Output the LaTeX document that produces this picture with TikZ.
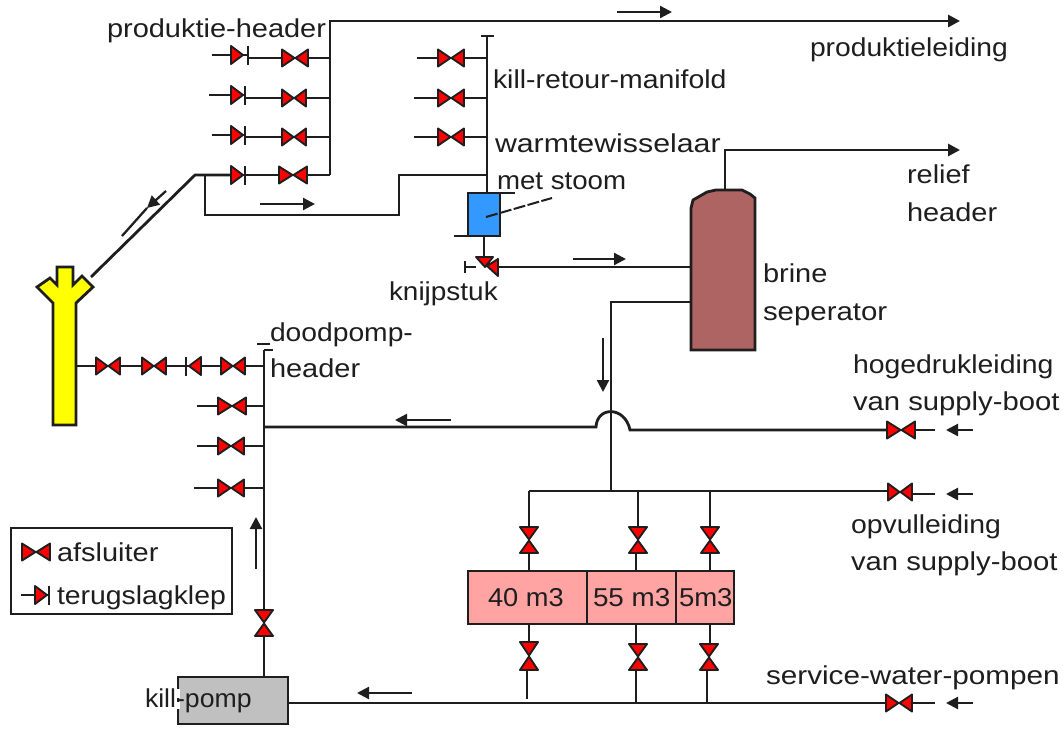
\documentclass[tikz,border=0pt]{standalone}
\usepackage{fontspec}
\setmainfont[FakeStretch=1.12]{Liberation Sans}
\usetikzlibrary{arrows.meta}
\definecolor{ink}{HTML}{1E1E1E}
\definecolor{vred}{HTML}{FF0000}
\definecolor{hxblue}{HTML}{3399FF}
\definecolor{sepbrown}{HTML}{AF6464}
\definecolor{tankpink}{HTML}{FFA3A3}
\definecolor{pumpgray}{HTML}{C0C0C0}
\definecolor{wellyellow}{HTML}{FFFF00}
\tikzset{
  x=0.75pt,y=-0.75pt,
  pipe/.style={draw=ink,line width=2.1pt,line join=miter},
  valveshape/.style={draw=ink,fill=vred,line width=1.4pt,line join=round},
  vbox/.style={inner sep=0pt,outer sep=0pt,draw=none},
  flowarrow/.style={draw=ink,line width=1.7pt,-{Triangle[length=9pt,width=9pt]}},
  lbl/.style={anchor=base west,inner sep=0pt,outer sep=0pt,text=ink,font=\fontsize{19.4pt}{22pt}\selectfont},
  vessel/.style={draw=ink,line width=2.1pt},
}
\newcommand{\vlvH}[4]{% name,x,y,halfwidth
  \node[vbox,minimum width=#4*1.5pt,minimum height=12.75pt] (#1) at (#2,#3) {};
  \draw[valveshape,shift={(#2,#3)}] (-#4,-8.5) -- (-0.5,0) -- (-#4,8.5) -- cycle (#4,-8.5) -- (0.5,0) -- (#4,8.5) -- cycle;}
\newcommand{\vlvV}[4]{% name,x,y,halfheight
  \node[vbox,minimum height=#4*1.5pt,minimum width=13.5pt] (#1) at (#2,#3) {};
  \draw[valveshape,shift={(#2,#3)}] (-9,-#4) -- (0,-0.5) -- (9,-#4) -- cycle (-9,#4) -- (0,0.5) -- (9,#4) -- cycle;}
\newcommand{\chk}[5]{% name,x,y,dir,baroffset : triangle base at x, points along dir, bar beyond tip
  \coordinate (#1a) at (#2,#3);
  \coordinate (#1b) at ({#2+#4*#5},#3);
  \draw[pipe] (#1a) -- (#1b);
  \draw[valveshape,shift={(#2,#3)},xscale=#4] (0,-9) -- (12,0) -- (0,9) -- cycle;
  \draw[pipe,line width=1.6pt,shift={(#2,#3)},xscale=#4] (#5,-9.5) -- (#5,9.5);}
\newcommand{\flow}[5]{% name,x1,y1,x2,y2
  \coordinate (#1a) at (#2,#3); \coordinate (#1b) at (#4,#5);
  \draw[flowarrow] (#1a) -- (#1b);}
\newcommand{\lbl}[5][1]{\node[lbl] (#2) at (#3,#4) {\scalebox{#1}[1]{#5}};}
\begin{document}
\begin{tikzpicture}
\useasboundingbox (0,0) rectangle (1063,728);
\fill[white] (0,0) rectangle (1063,728);

% ---- equipment ----
\draw[vessel,fill=wellyellow] (53,425) -- (53,303) -- (37,287) -- (50,278) -- (57,285) -- (57,267) -- (73,267) -- (73,285) -- (82,276) -- (93,287) -- (76,303) -- (76,425) -- cycle;
\coordinate (wellR) at (76,366);
\coordinate (wellArm) at (91,277);

\node[vessel,fill=hxblue,minimum width=24pt,minimum height=32.25pt,inner sep=0,outer sep=0,anchor=north west] (hx) at (468,193) {};

\draw[vessel,fill=sepbrown] (691,350) -- (691,208) -- (693,200) -- (700,196) -- (707,192) -- (716,190) -- (742,190) -- (750,194) -- (755,198) -- (755,350) -- cycle;
\coordinate (sepTop) at (725,190);
\coordinate (sepIn) at (691,267);
\coordinate (sepOut) at (691,302);

\node[vessel,fill=tankpink,minimum width=89.25pt,minimum height=39.75pt,inner sep=0,outer sep=0,anchor=north west] (t40) at (468,571) {};
\node[vessel,fill=tankpink,minimum width=66.75pt,minimum height=39.75pt,inner sep=0,outer sep=0,anchor=north west] (t55) at (587,571) {};
\node[vessel,fill=tankpink,minimum width=43.5pt,minimum height=39.75pt,inner sep=0,outer sep=0,anchor=north west] (t5) at (676,571) {};

\node[vessel,fill=pumpgray,minimum width=82.5pt,minimum height=35.25pt,inner sep=0,outer sep=0,anchor=north west] (pump) at (178,677) {};
\draw[white,line width=2.4pt] (178,689) -- (178,698) (178,702) -- (178,709);

% ---- valves ----
\chk{pc1}{231}{55}{1}{17}   \vlvH{pv1}{295}{58}{13}
\chk{pc2}{231}{95}{1}{14}   \vlvH{pv2}{294}{98}{12}
\chk{pc3}{231}{135}{1}{14}  \vlvH{pv3}{294}{137}{12}
\chk{pc4}{231}{175}{1}{14}  \vlvH{pv4}{293}{175}{14}

\vlvH{kv1}{451}{58}{13}
\vlvH{kv2}{451}{98}{13}
\vlvH{kv3}{451}{137}{13}

\vlvH{dv1}{108}{366}{12}
\vlvH{dv2}{154}{366}{12}
\chk{dc1}{201}{366}{-1}{15}
\vlvH{dv3}{233}{366}{12}
\vlvH{dv4}{232}{406}{14}
\vlvH{dv5}{231}{446}{13}
\vlvH{dv6}{231}{488}{13}
\vlvV{kpv}{264}{623}{13}

\vlvH{hv}{901}{430}{14}
\vlvH{ov}{900}{492}{12}
\vlvH{sv}{899}{703}{13}

\vlvV{tv1}{529}{540}{13}
\vlvV{tv2}{638}{540}{13}
\vlvV{tv3}{710}{540}{13}
\vlvV{bv1}{529}{656}{14}
\vlvV{bv2}{638}{657}{13}
\vlvV{bv3}{709}{657}{13}

% angle valve (knijpstuk)
\node[vbox,minimum width=16pt,minimum height=14pt] (knijp) at (487,267) {};
\draw[valveshape] (476,257) -- (493,257) -- (485,267) -- cycle (498,259) -- (498,276) -- (487,266) -- cycle;

% ---- junctions ----
\coordinate (topcorner) at (330,21);
\coordinate (phB) at (330,175);
\coordinate (prodEnd) at (960,21);
\coordinate (p1s) at (212,55); \coordinate (p1j) at (330,58);
\coordinate (p2s) at (209,95); \coordinate (p2j) at (330,98);
\coordinate (p3s) at (212,135); \coordinate (p3j) at (330,137);
\coordinate (wh) at (195,175);
\coordinate (lp1) at (205,175); \coordinate (lp2) at (205,215);
\coordinate (lp3) at (399,215); \coordinate (lp4) at (399,175);
\coordinate (kT) at (487,36); \coordinate (kB) at (487,193);
\coordinate (kJ) at (487,175);
\coordinate (kJ1) at (487,58); \coordinate (kJ2) at (487,98); \coordinate (kJ3) at (487,137);
\coordinate (k1s) at (417,58); \coordinate (k2s) at (414,98); \coordinate (k3s) at (414,137);
\coordinate (hxB) at (484,236);
\coordinate (relEnd) at (960,150);
\coordinate (relC) at (725,150);
\coordinate (outC) at (611,302);
\coordinate (outJ) at (611,491);
\coordinate (dT) at (264,350);
\coordinate (dJ1) at (264,366); \coordinate (dJ2) at (264,406); \coordinate (dJ3) at (264,427);
\coordinate (dJ4) at (264,446); \coordinate (dJ5) at (264,488);
\coordinate (dS4) at (197,406); \coordinate (dS5) at (197,446); \coordinate (dS6) at (194,488);
\coordinate (hopL) at (596,427); \coordinate (hopR) at (630,430);
\coordinate (hE) at (935,430); \coordinate (oE) at (935,494); \coordinate (sE) at (935,703);
\coordinate (oL) at (529,491); \coordinate (o2) at (638,491); \coordinate (o3) at (710,491);
\coordinate (s1) at (527,699); \coordinate (s2) at (636,703); \coordinate (s3) at (707,703);
\coordinate (pumpR) at (288,703);

% ---- pipes ----
\draw[pipe,-{Triangle[length=9pt,width=9pt]}] (phB) -- (topcorner) -- (prodEnd);
\draw[pipe] (p1s) -- (pc1a);
\draw[pipe] (pc1b |- p1j) -- (pv1);
\draw[pipe] (pv1) -- (p1j);
\draw[pipe] (p2s) -- (pc2a);
\draw[pipe] (pc2b |- p2j) -- (pv2);
\draw[pipe] (pv2) -- (p2j);
\draw[pipe] (p3s) -- (pc3a);
\draw[pipe] (pc3b |- p3j) -- (pv3);
\draw[pipe] (pv3) -- (p3j);
\draw[pipe] (wellArm) -- (wh) -- (pc4a);
\draw[pipe] (pc4b) -- (pv4);
\draw[pipe] (pv4) -- (phB);
\draw[pipe] (lp1) -- (lp2) -- (lp3) -- (lp4) -- (kJ);
\draw[pipe] (kT) -- (kB);
\draw[pipe] (481,36) -- (494,36);
\draw[pipe] (k1s) -- (kv1); \draw[pipe] (kv1) -- (kJ1);
\draw[pipe] (k2s) -- (kv2); \draw[pipe] (kv2) -- (kJ2);
\draw[pipe] (k3s) -- (kv3); \draw[pipe] (kv3) -- (kJ3);
\draw[pipe] (hx.north east) -- (515,193);
\draw[pipe] (454,236) -- (hx.south west);
\draw[pipe] (hxB) -- (484,257);
\draw[pipe] (knijp.east) -- (sepIn);
\draw[pipe] (knijp.west) -- (465,267);
\draw[pipe,line width=1.6pt] (465,261) -- (465,273);
\draw[pipe,line width=1.5pt,dash pattern=on 9pt off 1.8pt] (486,217) -- (552,198);
\draw[pipe,-{Triangle[length=9pt,width=9pt]}] (sepTop) -- (relC) -- (relEnd);
\draw[pipe] (sepOut) -- (outC) -- (outJ);
\draw[pipe] (dT) -- (kpv);
\draw[pipe] (kpv) -- (pump.north -| dT);
\draw[pipe] (264,350) -- (273,350);
\draw[pipe,line width=1.6pt] (257,344) -- (270,344);
\draw[pipe] (wellR) -- (dv1);
\draw[pipe] (dv1) -- (dv2);
\draw[pipe] (dv2) -- (dc1b);
\draw[pipe] (dc1a) -- (dv3);
\draw[pipe] (dv3) -- (dJ1);
\draw[pipe] (dS4) -- (dv4); \draw[pipe] (dv4) -- (dJ2);
\draw[pipe] (dS5) -- (dv5); \draw[pipe] (dv5) -- (dJ4);
\draw[pipe] (dS6) -- (dv6); \draw[pipe] (dv6) -- (dJ5);
\draw[pipe] (dJ3) -- (hopL) .. controls (597,406) and (625,406) .. (hopR) -- (hv);
\draw[pipe] (hv) -- (hE);
\draw[pipe] (oL) -- (outJ) -- (889,491); \draw[pipe] (911,494) -- (oE);
\draw[pipe] (oL) -- (tv1); \draw[pipe] (tv1) -- (tv1 |- t40.north);
\draw[pipe] (o2) -- (tv2); \draw[pipe] (636,553) -- (636,571);
\draw[pipe] (o3) -- (tv3); \draw[pipe] (tv3) -- (tv3 |- t5.north);
\draw[pipe] (529,624) -- (bv1); \draw[pipe] (bv1.south -| s1) -- (s1);
\draw[pipe] (636,624) -- (636,644); \draw[pipe] (636,670) -- (s2);
\draw[pipe] (710,624) -- (710,644); \draw[pipe] (bv3.south -| s3) -- (s3);
\draw[pipe] (pumpR) -- (sv); \draw[pipe] (sv) -- (sE);

% ---- flow arrows ----
\flow{f1}{617}{12}{672}{12}
\coordinate (f2a) at (166,191); \coordinate (f2m) at (147,208); \coordinate (f2b) at (122,236);
\draw[flowarrow] (f2a) -- (f2m); \draw[draw=ink,line width=1.7pt] (f2m) -- (f2b);
\flow{f3}{260}{204}{315}{204}
\flow{f4}{573}{259}{626}{259}
\flow{f5}{603}{338}{603}{392}
\flow{f6}{451}{420}{395}{420}
\flow{f7}{973}{430}{946}{430}
\flow{f8}{973}{494}{946}{494}
\flow{f9}{973}{703}{946}{703}
\flow{f10}{412}{693}{357}{693}
\flow{f11}{256}{569}{256}{517}

% ---- labels ----
\lbl{tProdH}{107}{37}{produktie-header}
\lbl[0.975]{tProdL}{810}{56}{produktieleiding}
\lbl[0.98]{tKill}{493}{88}{kill-retour-manifold}
\lbl[1.046]{tWarm}{495}{152}{warmtewisselaar}
\lbl[0.955]{tStoom}{497}{189}{met stoom}
\lbl[0.965]{tKnijp}{389}{300}{knijpstuk}
\lbl{tRel}{907}{183}{relief}
\lbl{tRelH}{907}{221}{header}
\lbl{tBrine}{763}{282}{brine}
\lbl[1.015]{tSep}{763}{320}{seperator}
\lbl[0.975]{tDood}{270}{341}{doodpomp-}
\lbl{tDoodH}{270}{377}{header}
\lbl[0.98]{tHoog}{853}{373}{hogedrukleiding}
\lbl[1.01]{tVan1}{853}{410}{van supply-boot}
\lbl[0.98]{tOpv}{851}{533}{opvulleiding}
\lbl[1.01]{tVan2}{851}{570}{van supply-boot}
\lbl[1.025]{tServ}{766}{684}{service-water-pompen}
\lbl[0.94]{t40t}{488}{606}{40 m3}
\lbl[0.96]{t55t}{593}{606}{55 m3}
\lbl[0.95]{t5t}{679}{606}{5m3}
\lbl[0.92]{tPomp}{145}{707}{kill-pomp}

% ---- legend ----
\node[draw=ink,line width=1.7pt,fill=white,minimum width=165.75pt,minimum height=64.5pt,inner sep=0,outer sep=0,anchor=north west] (legend) at (11,528) {};
\vlvH{lv}{36}{552}{14}
\lbl{tAfs}{57}{561}{afsluiter}
\chk{lc}{35}{595}{1}{14}
\coordinate (lcs) at (21,595);
\draw[pipe] (lcs) -- (lca);
\lbl[0.98]{tTer}{57}{604}{terugslagklep}
\end{tikzpicture}
\end{document}
